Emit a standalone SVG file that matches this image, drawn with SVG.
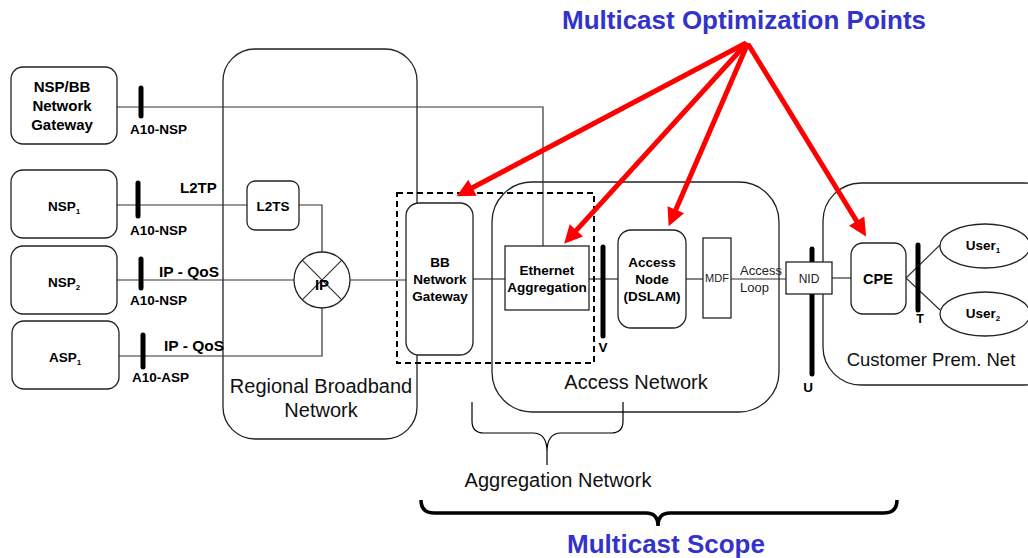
<svg xmlns="http://www.w3.org/2000/svg" width="1028" height="558" viewBox="0 0 1028 558">
<style>
.box{fill:#fff;stroke:#222;stroke-width:1.3}
.area{fill:none;stroke:#222;stroke-width:1.3}
.ln{fill:none;stroke:#333;stroke-width:1.2}
.bar{stroke:#000;stroke-width:5;stroke-linecap:round}
.b{font-family:"Liberation Sans",Arial,sans-serif;font-weight:bold;font-size:13.5px;fill:#000}
.r{font-family:"Liberation Sans",Arial,sans-serif;font-size:20px;fill:#111}
.s{font-family:"Liberation Sans",Arial,sans-serif;font-size:11px;fill:#222}
.c{text-anchor:middle}
.blue{font-family:"Liberation Sans",Arial,sans-serif;font-weight:bold;font-size:26px;fill:#3333cc}
.arrow{stroke:#ff0000;stroke-width:5;fill:none}
.brace{fill:none;stroke:#000}
</style>
<defs>
<marker id="ah" viewBox="0 0 10 10" refX="5.45" refY="5" markerWidth="4.4" markerHeight="3.6" orient="auto" markerUnits="strokeWidth">
<path d="M0,0 L10,5 L0,10 z" fill="#ff0000"/>
</marker>
</defs>
<rect width="1028" height="558" fill="#fff"/>

<g id="regional-broadband-network">
<rect class="area" x="223" y="49" width="194" height="390" rx="32"/>
<text class="r c" x="321" y="393">Regional Broadband</text>
<text class="r c" x="321" y="417">Network</text>
</g>
<g id="access-network">
<rect class="area" x="492" y="182" width="287" height="230" rx="40"/>
<text class="r c" x="636" y="389">Access Network</text>
</g>
<g id="customer-prem-net">
<rect class="area" x="823" y="183" width="240" height="202" rx="38"/>
<text class="r c" x="931" y="366" style="font-size:18.5px">Customer Prem. Net</text>
</g>

<g id="connectors">
<path class="ln" d="M117,107 H543 V246"/>
<path class="ln" d="M117,205 H247"/>
<path class="ln" d="M299,205 H322 V252"/>
<path class="ln" d="M117,280 H294"/>
<path class="ln" d="M119,356 H322 V308"/>
<path class="ln" d="M350,280 H406"/>
<path class="ln" d="M473,279 H505"/>
<path class="ln" d="M589,279 H618"/>
<path class="ln" d="M686,279 H703"/>
<path class="ln" d="M731,279 H786"/>
<path class="ln" d="M832,278 H851"/>
<path class="ln" d="M906,278 L940,245 M906,278 L940,310"/>
</g>

<g id="reference-points">
<line class="bar" x1="141" y1="88" x2="141" y2="116"/>
<text class="b" x="130" y="134">A10-NSP</text>
<line class="bar" x1="138" y1="183" x2="138" y2="216"/>
<text class="b" x="130" y="235">A10-NSP</text>
<text class="b" x="180" y="193" style="font-size:15px">L2TP</text>
<line class="bar" x1="141" y1="259" x2="141" y2="288"/>
<text class="b" x="130" y="305">A10-NSP</text>
<text class="b" x="159" y="277" style="font-size:15.5px">IP - QoS</text>
<line class="bar" x1="143" y1="335" x2="143" y2="367"/>
<text class="b" x="132" y="382">A10-ASP</text>
<text class="b" x="164" y="351" style="font-size:15.5px">IP - QoS</text>
<line class="bar" x1="603" y1="247" x2="603" y2="336"/>
<text class="b c" x="603" y="352">V</text>
<line class="bar" x1="812" y1="249" x2="812" y2="374"/>
<text class="b c" x="808" y="392">U</text>
<line class="bar" x1="918" y1="245" x2="918" y2="310"/>
<text class="b c" x="920" y="323" style="font-size:12.5px">T</text>
</g>

<g id="nsp-bb-gateway">
<rect class="box" x="11" y="67" width="106" height="77" rx="12"/>
<text class="b c" x="62" y="92" style="font-size:15px">NSP/BB</text>
<text class="b c" x="62" y="111" style="font-size:15px">Network</text>
<text class="b c" x="62" y="130" style="font-size:15px">Gateway</text>
</g>
<g id="nsp1">
<rect class="box" x="11" y="170" width="106" height="68" rx="12"/>
<text class="b c" x="64" y="211">NSP<tspan style="font-size:8px" dy="3">1</tspan></text>
</g>
<g id="nsp2">
<rect class="box" x="11" y="246" width="106" height="68" rx="12"/>
<text class="b c" x="64" y="287">NSP<tspan style="font-size:8px" dy="3">2</tspan></text>
</g>
<g id="asp1">
<rect class="box" x="12" y="321" width="107" height="68" rx="12"/>
<text class="b c" x="65" y="362">ASP<tspan style="font-size:8px" dy="3">1</tspan></text>
</g>
<g id="l2ts">
<rect class="box" x="247" y="181" width="52" height="49" rx="8"/>
<text class="b c" x="273" y="211">L2TS</text>
</g>
<g id="ip-router">
<circle class="box" cx="322" cy="280" r="28"/>
<path class="ln" d="M302.2,260.2 L341.8,299.8 M341.8,260.2 L302.2,299.8"/>
<text class="b c" x="322" y="290" style="font-size:15px">IP</text>
</g>
<g id="bb-network-gateway">
<rect x="397" y="193" width="197" height="170" fill="none" stroke="#000" stroke-width="2" stroke-dasharray="6,4"/>
<rect class="box" x="406" y="203" width="67" height="152" rx="13"/>
<text class="b c" x="440" y="267">BB</text>
<text class="b c" x="440" y="284">Network</text>
<text class="b c" x="440" y="301">Gateway</text>
</g>
<g id="ethernet-aggregation">
<rect class="box" x="505" y="246" width="84" height="64"/>
<text class="b c" x="547" y="275">Ethernet</text>
<text class="b c" x="547" y="292">Aggregation</text>
</g>
<g id="access-node">
<rect class="box" x="618" y="230" width="68" height="98" rx="13"/>
<text class="b c" x="652" y="267">Access</text>
<text class="b c" x="652" y="284">Node</text>
<text class="b c" x="652" y="301">(DSLAM)</text>
</g>
<g id="mdf">
<rect class="box" x="703" y="238" width="28" height="80"/>
<text class="s c" x="717" y="282">MDF</text>
</g>
<text class="s" x="740" y="275" style="font-size:13px">Access</text>
<text class="s" x="740" y="292" style="font-size:13px">Loop</text>
<g id="nid">
<rect class="box" x="786" y="262" width="46" height="32"/>
<text class="s c" x="809" y="283" style="font-size:12px">NID</text>
</g>
<g id="cpe">
<rect class="box" x="851" y="243" width="55" height="71" rx="12"/>
<text class="b c" x="878" y="284" style="font-size:14.5px">CPE</text>
</g>
<g id="user1">
<ellipse class="box" cx="985" cy="246" rx="45" ry="22"/>
<text class="b c" x="983" y="250">User<tspan style="font-size:8px" dy="3">1</tspan></text>
</g>
<g id="user2">
<ellipse class="box" cx="985" cy="314" rx="45" ry="22"/>
<text class="b c" x="983" y="318">User<tspan style="font-size:8px" dy="3">2</tspan></text>
</g>

<g id="aggregation-network-brace">
<path class="brace" stroke-width="1.2" d="M472,402 V421 Q472,433 484,433 H533 Q547,433 547,452 V465 M623,402 V421 Q623,433 611,433 H561 Q547,433 547,452"/>
<text class="r c" x="558" y="487">Aggregation Network</text>
</g>
<g id="multicast-scope">
<path class="brace" stroke-width="3.5" d="M421,500 Q421,513 434,513 H646 Q658,513 658,526 M897,500 Q897,513 884,513 H670 Q658,513 658,526"/>
<text class="blue c" x="666" y="553">Multicast Scope</text>
</g>
<g id="multicast-optimization-points">
<text class="blue c" x="744" y="29">Multicast Optimization Points</text>
<line class="arrow" marker-end="url(#ah)" x1="746" y1="43" x2="463.8" y2="192.3"/>
<line class="arrow" marker-end="url(#ah)" x1="747" y1="43" x2="569.7" y2="237.6"/>
<line class="arrow" marker-end="url(#ah)" x1="748" y1="43" x2="671.9" y2="218.8"/>
<line class="arrow" marker-end="url(#ah)" x1="748" y1="44" x2="861.8" y2="229.5"/>
</g>
</svg>
